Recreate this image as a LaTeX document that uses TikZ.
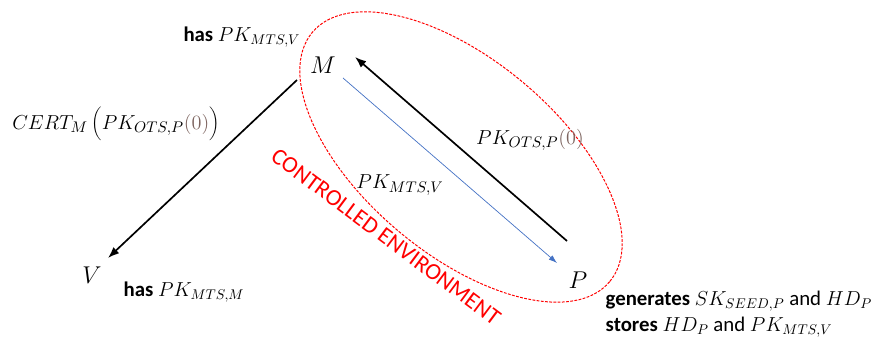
\documentclass[tikz,border=0pt]{standalone}
\usepackage{fontspec}
\setmainfont{Carlito}
\usetikzlibrary{positioning, arrows.meta, calc}
\definecolor{envred}{RGB}{255, 0, 0}
\definecolor{msgblue}{RGB}{68, 114, 196}
\definecolor{zerobrown}{RGB}{125, 100, 95}
\newcommand{\zeroarg}{\textcolor{zerobrown}{(0)}}

\begin{document}
\begin{tikzpicture}[x=0.025cm, y=-0.025cm,
    party/.style={inner sep=0pt, font=\fontsize{19}{22}\selectfont},
    msglabel/.style={inner sep=1pt, font=\fontsize{15}{18}\selectfont},
    infotext/.style={inner sep=1pt, align=left, font=\fontsize{14.8}{19}\selectfont},
    sendarrow/.style={-{Latex[length=8pt, width=6pt]}, line width=1.2pt},
    keyarrow/.style={-{Latex[length=6pt, width=4pt]}, draw=msgblue, line width=0.5pt}]
    \useasboundingbox (0,0) rectangle (883,346);
    % controlled environment
    \draw[envred, dashed, dash pattern=on 2pt off 1pt, line width=0.7pt, rotate around={-40:(461,157)}] (461,157) ellipse (194 and 97);
    \node[text=envred, rotate=-36.7, font=\fontsize{16.6}{20}\selectfont] (env) at (386,237) {CONTROLLED ENVIRONMENT};
    % parties
    \node[party] (M) at (323,65) {$M$};
    \node[party] (P) at (578,280) {$P$};
    \node[party] (V) at (92,275) {$V$};
    % messages
    \draw[sendarrow] ([shift={(-11,-39)}]P.center) -- ([shift={(32,-8)}]M.center);
    \draw[keyarrow] ([shift={(20,13)}]M.center) -- ([shift={(-21,-17)}]P.center);
    \draw[sendarrow] ([shift={(-26,15)}]M.center) -- ([shift={(16,-17)}]V.center);
    \node[msglabel] (otslabel) at (530,140) {$PK_{OTS,P}\zeroarg$};
    \node[msglabel] (mtslabel) at (400,185) {$PK_{MTS,V}$};
    \node[msglabel] (certlabel) at (116,124) {$CERT_M\left(\rule[-6pt]{0pt}{22pt}PK_{OTS,P}\zeroarg\right)$};
    % what each party holds
    \node[infotext, anchor=east] (hasM) at (302,37) {\textbf{has} $PK_{MTS,V}$};
    \node[infotext, anchor=west] (hasV) at (122,292) {\textbf{has} $PK_{MTS,M}$};
    \node[infotext, anchor=north west] (hasP) at (604,289) {\textbf{generates} $SK_{SEED,P}$ and $HD_P$\\\textbf{stores} $HD_P$ and $PK_{MTS,V}$};
\end{tikzpicture}
\end{document}
